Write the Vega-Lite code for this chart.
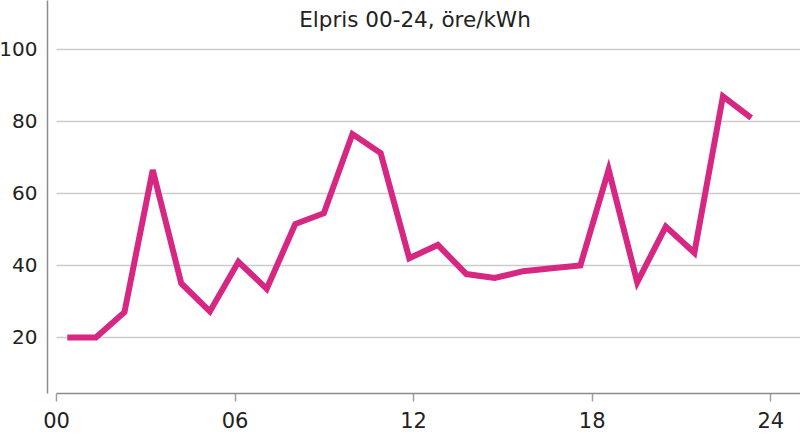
{
  "$schema": "https://vega.github.io/schema/vega-lite/v6.json",
  "width": 744,
  "height": 393,
  "autosize": {"type": "none"},
  "padding": {"left": 56, "top": 0, "right": 0, "bottom": 41},
  "background": "white",
  "config": {
    "view": {"stroke": null},
    "font": "DejaVu Sans"
  },
  "title": {
    "text": "Elpris 00-24, öre/kWh",
    "anchor": "middle",
    "orient": "top",
    "baseline": "alphabetic",
    "offset": -48,
    "dx": -13,
    "fontSize": 21.5,
    "fontWeight": "normal",
    "color": "#222222",
    "font": "DejaVu Sans"
  },
  "data": {
    "values": [
      {"t": 0.38, "pris": 20},
      {"t": 1.34, "pris": 20},
      {"t": 2.30, "pris": 27},
      {"t": 3.25, "pris": 66.5},
      {"t": 4.21, "pris": 35},
      {"t": 5.17, "pris": 27.2},
      {"t": 6.13, "pris": 41},
      {"t": 7.08, "pris": 33.5},
      {"t": 8.04, "pris": 51.5},
      {"t": 9.00, "pris": 54.5},
      {"t": 9.96, "pris": 76.5},
      {"t": 10.91, "pris": 71.2},
      {"t": 11.87, "pris": 42},
      {"t": 12.83, "pris": 45.7},
      {"t": 13.79, "pris": 37.6},
      {"t": 14.74, "pris": 36.5},
      {"t": 15.70, "pris": 38.4},
      {"t": 16.66, "pris": 39.2},
      {"t": 17.62, "pris": 40},
      {"t": 18.57, "pris": 66.6},
      {"t": 19.53, "pris": 35.3},
      {"t": 20.49, "pris": 50.8},
      {"t": 21.45, "pris": 43.5},
      {"t": 22.41, "pris": 87},
      {"t": 23.36, "pris": 81}
    ]
  },
  "mark": {
    "type": "line",
    "color": "#d62782",
    "strokeWidth": 6,
    "strokeJoin": "miter",
    "strokeCap": "butt"
  },
  "encoding": {
    "x": {
      "field": "t",
      "type": "quantitative",
      "scale": {"domain": [0, 25], "nice": false, "zero": false},
      "axis": {
        "title": null,
        "values": [0, 6, 12, 18, 24],
        "labelExpr": "datum.value < 10 ? '0' + datum.value : '' + datum.value",
        "grid": false,
        "domainColor": "#8c8c8c",
        "domainWidth": 1.5,
        "tickColor": "#a0a0a0",
        "tickWidth": 1.5,
        "tickSize": 8,
        "labelPadding": 9,
        "labelFontSize": 21,
        "labelColor": "#222222",
        "labelFont": "DejaVu Sans",
        "labelBaseline": "top",
        "labelFlush": false
      }
    },
    "y": {
      "field": "pris",
      "type": "quantitative",
      "scale": {"domain": [4.56, 113.74], "nice": false, "zero": false},
      "axis": {
        "title": null,
        "values": [20, 40, 60, 80, 100],
        "offset": 9,
        "ticks": false,
        "grid": true,
        "gridColor": "#cccccc",
        "gridWidth": 1.5,
        "domainColor": "#8c8c8c",
        "domainWidth": 1.5,
        "labelPadding": 10,
        "labelFontSize": 20,
        "labelColor": "#222222",
        "labelFont": "DejaVu Sans"
      }
    }
  }
}
